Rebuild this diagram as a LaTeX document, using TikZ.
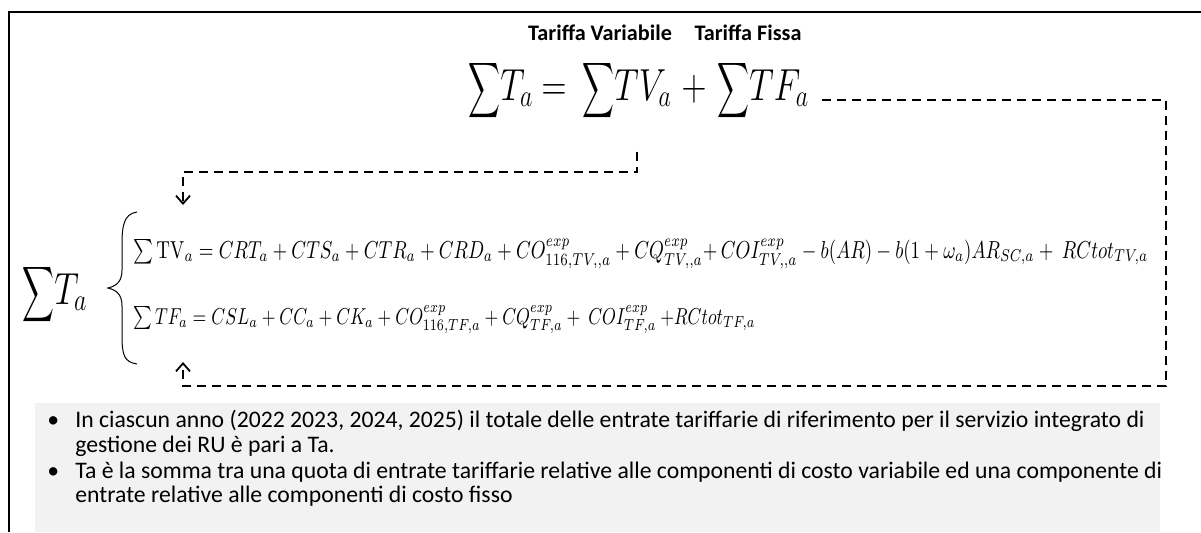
\documentclass[tikz,border=0pt]{standalone}
\usepackage{amsmath}
\usepackage[no-math]{fontspec}
\setmainfont{Carlito}
\usepackage{graphicx}
\usetikzlibrary{arrows.meta}
\definecolor{panelgrey}{HTML}{F2F2F2}
\newcommand{\Sm}{\scalebox{0.64}[0.86]{$\displaystyle\sum$}}
\newcommand{\tallbox}[1]{\scalebox{1}[1.3]{#1}}
\tikzset{
  conn/.style={dash pattern=on 4.5pt off 3pt, line width=1.1pt},
  tip/.style={-{Straight Barb[length=4pt,width=7pt,line width=0.9pt]}},
  lab/.style={font=\fontsize{11.1}{13}\selectfont\bfseries, inner sep=0pt, anchor=base},
  meq/.style={font=\fontsize{17}{20}\selectfont, inner sep=0pt, anchor=base west},
  meqc/.style={font=\fontsize{17}{20}\selectfont, inner sep=0pt, anchor=base},
  leq/.style={inner sep=0pt, anchor=base west},
  bul/.style={font=\fontsize{11.85}{13.5}\selectfont, inner sep=0pt, anchor=base west},
}
\begin{document}
\begin{tikzpicture}[x=0.5pt,y=-0.5pt]
\useasboundingbox (0,0) rectangle (1201,532);
% frame
\draw[line width=1pt] (9,532) -- (9,12) -- (1201,12);
% grey panel
\fill[panelgrey] (35,403) rectangle (1160,532);
% labels
\node[lab] (ltv) at (600,40) {Tariffa Variabile};
\node[lab] (ltf) at (748,40) {Tariffa Fissa};
% main equation
\node[meq] (sT) at (468,100) {\tallbox{$\Sm T_a$}};
\node[meqc] (eqs) at (554,100) {\tallbox{$=$}};
\node[meq] (sTV) at (582,100) {\tallbox{$\Sm TV_a$}};
\node[meqc] (pl) at (694,100) {\tallbox{$+$}};
\node[meq] (sTF) at (717,100) {\tallbox{$\Sm TF_a$}};
% left big sum
\node[meq] (sTL) at (22,304) {\tallbox{$\Sm T_a$}};
% brace
\draw[line width=0.5pt] (137,212) .. controls (124,214) and (122,225) .. (122,245) -- (122,270)
  .. controls (122,282) and (116,286) .. (108,288)
  .. controls (116,290) and (122,294) .. (122,306) -- (122,335)
  .. controls (122,355) and (124,362) .. (137,364);
% equation lines
\node[leq] (e1) at (133,258) {\scalebox{1}[1.3]{\resizebox{507.5pt}{!}{$\textstyle\sum \mathrm{TV}_a = CRT_a + CTS_a + CTR_a + CRD_a + CO^{exp}_{116,TV,,a} + CQ^{exp}_{TV,,a}{+}\, COI^{exp}_{TV,,a} - b(AR) - b(1+\omega_a)AR_{SC,a} +\ RCtot_{TV,a}$}}};
\node[leq] (e2) at (133,324) {\scalebox{1}[1.3]{\resizebox{311pt}{!}{$\textstyle\sum TF_a = CSL_a + CC_a + CK_a + CO^{exp}_{116,TF,a} + CQ^{exp}_{TF,a} +\ COI^{exp}_{TF,a}\ {+}RCtot_{TF,a}$}}};
% connectors
\coordinate (tfin) at (183,362);
\coordinate (tvin) at (183,205);
\coordinate (r1) at (1166,386);
\coordinate (c2) at (183,172);
\draw[conn,tip] ([xshift=6pt]sTF.base east) -| (r1) -| (tfin);
\draw[conn,tip,shorten <=15pt] ([xshift=5pt]sTV.south) |- (c2) -- (tvin);
% bullets
\node[bul] (b1) at (47,427) {•};
\node[bul] (t1) at (75,427) {In ciascun anno (2022 2023, 2024, 2025) il totale delle entrate tariffarie di riferimento per il servizio integrato di};
\node[bul] (t2) at (75,452) {gestione dei RU è pari a Ta.};
\node[bul] (b2) at (47,478) {•};
\node[bul] (t3) at (75,478) {Ta è la somma tra una quota di entrate tariffarie relative alle componenti di costo variabile ed una componente di};
\node[bul] (t4) at (75,502) {entrate relative alle componenti di costo fisso};
\end{tikzpicture}
\end{document}
